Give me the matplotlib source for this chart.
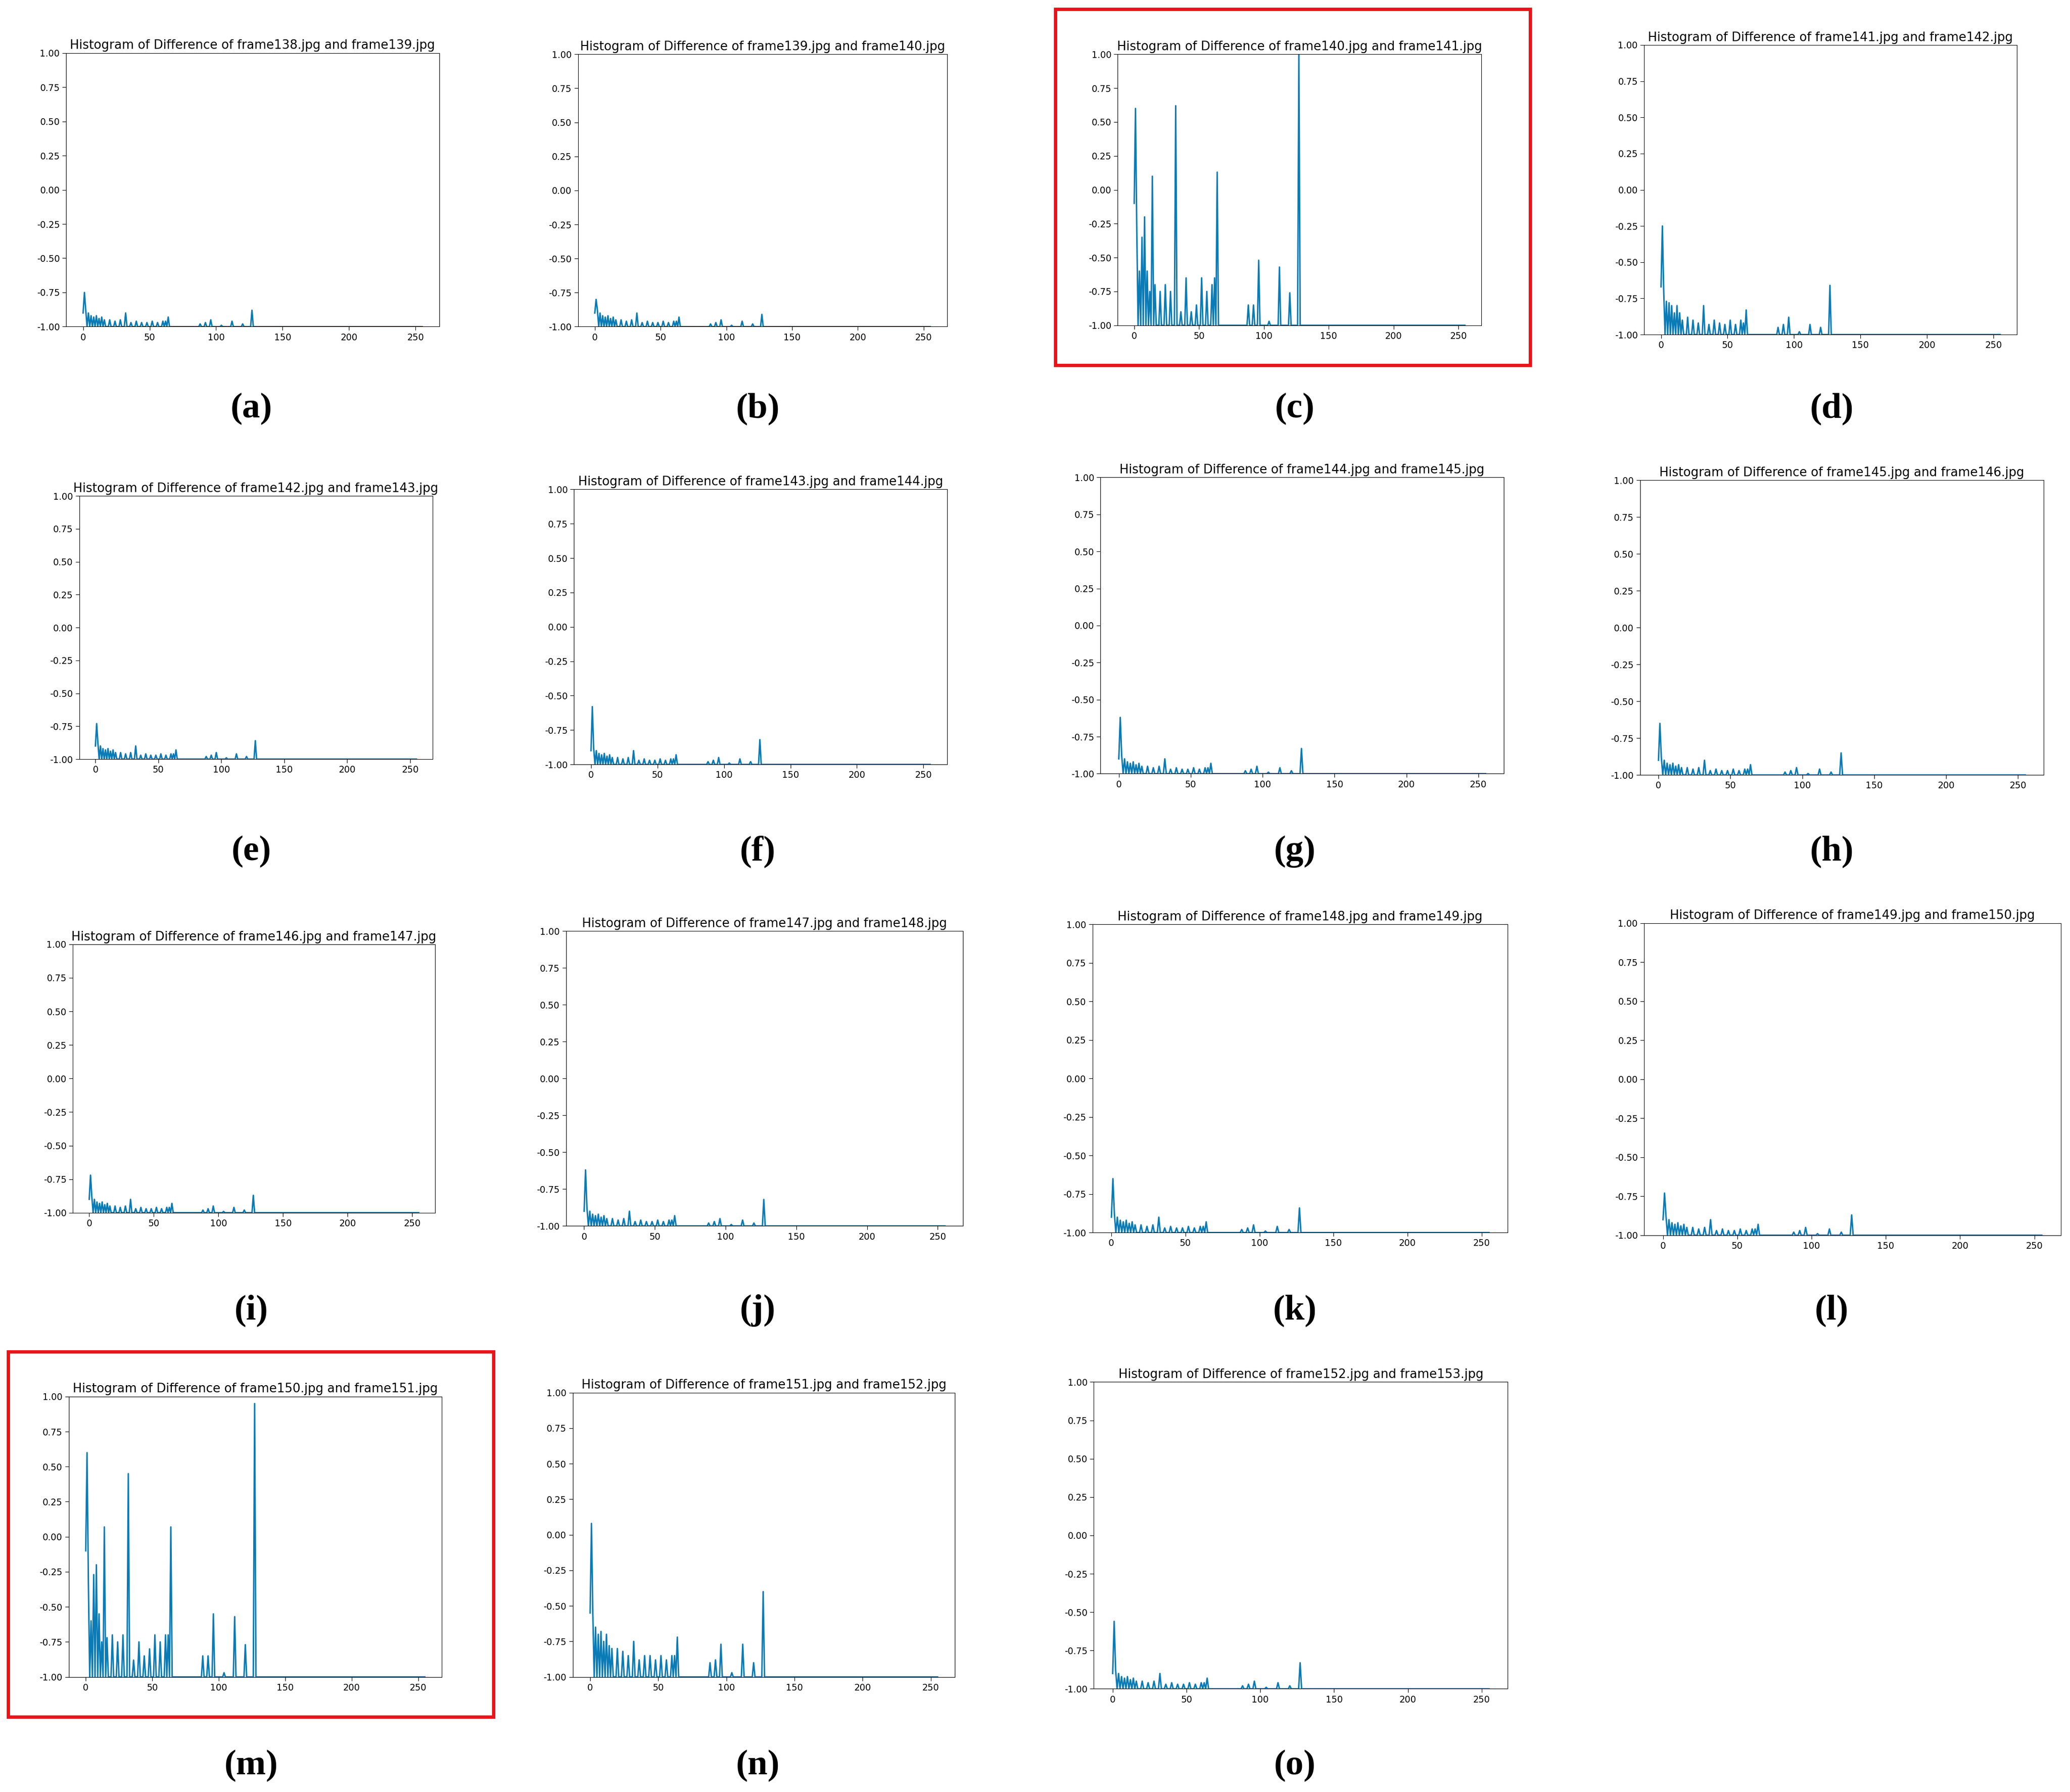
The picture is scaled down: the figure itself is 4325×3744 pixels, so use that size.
import matplotlib
matplotlib.use("Agg")
import matplotlib.pyplot as plt
import numpy as np
from matplotlib.patches import Rectangle
from matplotlib.ticker import FormatStrFormatter

W, H = 1565, 1355
frames = list(range(138, 153))
letters = list("abcdefghijklmno")

pos = [0,1,2,4,6,8,10,12,14,16,20,24,28,32,36,40,44,48,52,56,60,62,64,88,92,96,104,112,120,127,128]
faint = [-0.9,-0.75,-0.88,-0.9,-0.92,-0.93,-0.92,-0.94,-0.93,-0.95,-0.95,-0.96,-0.95,-0.9,-0.97,-0.96,-0.97,-0.97,-0.96,-0.97,-0.96,-0.96,-0.93,-0.98,-0.97,-0.95,-0.99,-0.96,-0.98,-0.88,-1.0]
strong_c = [-0.1,0.6,-0.3,-0.6,-0.35,-0.2,-0.6,-0.75,0.1,-0.7,-0.75,-0.7,-0.75,0.62,-0.9,-0.65,-0.9,-0.85,-0.65,-0.75,-0.7,-0.65,0.13,-0.85,-0.85,-0.52,-0.97,-0.57,-0.76,1.0,-1.0]
strong_m = [-0.1,0.6,-0.33,-0.6,-0.27,-0.2,-0.55,-0.75,0.07,-0.72,-0.7,-0.75,-0.7,0.45,-0.88,-0.75,-0.85,-0.8,-0.7,-0.75,-0.7,-0.7,0.07,-0.85,-0.85,-0.55,-0.97,-0.57,-0.77,0.95,-1.0]
mid_d = [-0.67,-0.25,-0.7,-0.77,-0.78,-0.8,-0.85,-0.8,-0.85,-0.9,-0.88,-0.9,-0.92,-0.8,-0.93,-0.9,-0.92,-0.93,-0.9,-0.93,-0.9,-0.92,-0.83,-0.95,-0.93,-0.88,-0.98,-0.93,-0.95,-0.66,-1.0]
mid_n = [-0.55,0.08,-0.55,-0.65,-0.7,-0.68,-0.75,-0.7,-0.78,-0.8,-0.8,-0.82,-0.85,-0.75,-0.88,-0.85,-0.85,-0.88,-0.85,-0.88,-0.85,-0.85,-0.72,-0.9,-0.88,-0.77,-0.97,-0.77,-0.9,-0.4,-1.0]
faint_peaks = {"a": (-0.75,-0.88), "b": (-0.8,-0.91), "e": (-0.73,-0.86), "f": (-0.58,-0.82),
               "g": (-0.62,-0.83), "h": (-0.65,-0.85), "i": (-0.72,-0.87), "j": (-0.62,-0.82),
               "k": (-0.65,-0.84), "l": (-0.73,-0.87), "o": (-0.56,-0.83)}

axpos = {"a": (50,40,332,247), "b": (437,41,716,247), "c": (845,41,1120,246), "d": (1243,34,1525,253),
         "e": (60,375,327,574), "f": (434,370,716,578), "g": (832,361,1137,585), "h": (1240,363,1545,586),
         "i": (55,714,329,917), "j": (428,704,728,927), "k": (826,699,1140,932), "l": (1243,698,1558,934),
         "m": (52,1056,334,1268), "n": (433,1053,722,1268), "o": (827,1045,1140,1277)}
label_y = [309, 644, 991, 1335]
label_x = [190, 573, 979, 1385]

fig = plt.figure(figsize=(43.25, 37.44), dpi=100)
x = np.arange(256)
for i, L in enumerate(letters):
    x0, y0, x1, y1 = axpos[L]
    ax = fig.add_axes([x0/W, 1-y1/H, (x1-x0)/W, (y1-y0)/H])
    if L == "c": vals = strong_c
    elif L == "m": vals = strong_m
    elif L == "d": vals = mid_d
    elif L == "n": vals = mid_n
    else:
        vals = list(faint)
        vals[1], vals[29] = faint_peaks[L]
    y = np.full(256, -1.0)
    y[pos] = vals
    ax.plot(x, y, color="#0a7bb5", lw=2.2)
    ax.set_ylim(-1.0, 1.0)
    ax.set_yticks(np.arange(-1.0, 1.01, 0.25))
    ax.yaxis.set_major_formatter(FormatStrFormatter("%.2f"))
    ax.set_xticks([0, 50, 100, 150, 200, 250])
    ax.tick_params(labelsize=13.5, length=6)
    ax.set_title(f"Histogram of Difference of frame{frames[i]}.jpg and frame{frames[i]+1}.jpg", fontsize=18.5, pad=6)
    r, c = divmod(i, 4)
    fig.text(label_x[c]/W, 1-label_y[r]/H, f"({L})", fontsize=54, family="Liberation Serif",
             fontweight="bold", ha="center", va="center")

for (bx0, by0, bx1, by1) in [(798,7,1157,276), (6,1022,373,1298)]:
    fig.add_artist(Rectangle((bx0/W, 1-by1/H), (bx1-bx0)/W, (by1-by0)/H, transform=fig.transFigure,
                             fill=False, edgecolor="#e8141c", lw=5))

fig.savefig("out.png", dpi=100)
